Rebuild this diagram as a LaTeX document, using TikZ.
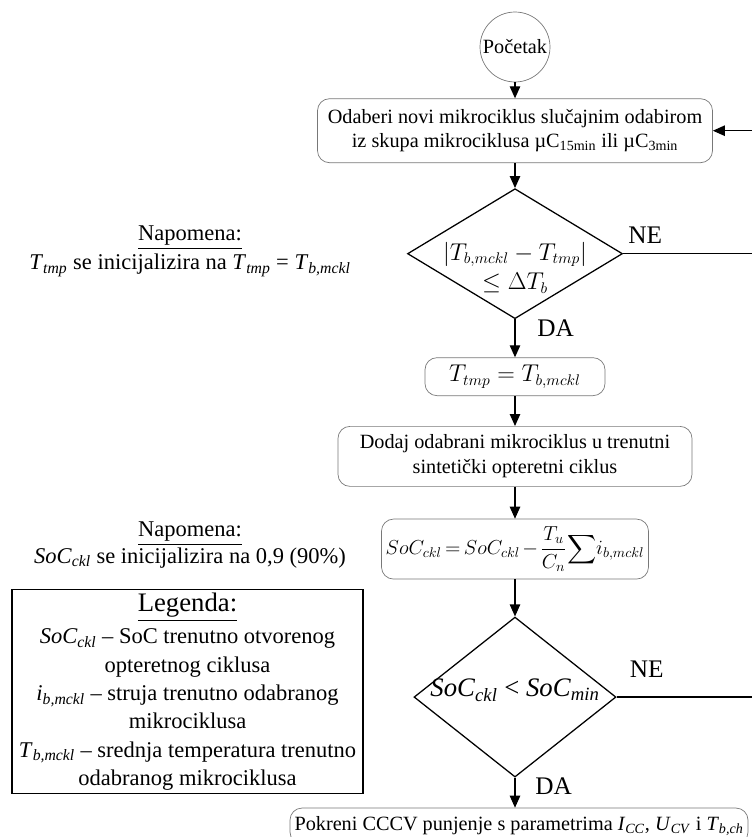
\documentclass[tikz,border=0pt]{standalone}
\usepackage{fontspec}
\setmainfont{Liberation Serif}
\usepackage{amsmath}
\usetikzlibrary{shapes.geometric, arrows.meta, positioning, calc}
\definecolor{fcgray}{RGB}{120,120,120}
\newcommand{\vsub}[2]{\textit{#1}\textsubscript{\textit{#2}}}

\begin{document}
\begin{tikzpicture}[node distance=0.5cm,
  box/.style={rectangle, rounded corners=0.3cm, draw=fcgray, line width=0.5pt, minimum width=#1, align=center, inner sep=2pt, font=\fontsize{14.4}{17.5}\selectfont},
  dec/.style 2 args={diamond, draw, line width=0.9pt, inner sep=0pt, minimum width=#1, minimum height=#2},
  arr/.style={-{Triangle[length=3mm, width=2.6mm]}, line width=0.9pt},
  plain/.style={line width=0.9pt},
  lbl/.style={font=\fontsize{18}{21}\selectfont, inner sep=0pt},
  note/.style={align=center, inner sep=0pt, font=\fontsize{16}{21}\selectfont}
]
\useasboundingbox (0,0) rectangle (18.8,-20.925);
\node[circle, draw=fcgray, line width=0.5pt, minimum size=1.75cm, inner sep=0pt, font=\fontsize{14.4}{17}\selectfont] (start) at (12.875,-1.175) {Početak};
\node[box=9.875cm, minimum height=1.6cm, below=0.4cm of start] (select) {Odaberi novi mikrociklus slučajnim odabirom\\iz skupa mikrociklusa µC\textsubscript{15min} ili µC\textsubscript{3min}};
\node[dec={5.375cm}{3.25cm}, below=0.625cm of select,
  label={[yshift=-0.35cm, align=center, font=\fontsize{16}{21}\selectfont]center:{$|T_{b,mckl}-T_{tmp}|$\\$\le\Delta T_b$}}] (tcheck) {};
\node[box=4.5cm, minimum height=0.95cm, below=0.95cm of tcheck, font=\fontsize{16}{19}\selectfont] (tset) {$T_{tmp} = T_{b,mckl}$};
\node[box=8.85cm, minimum height=1.5cm, below=0.75cm of tset] (add) {Dodaj odabrani mikrociklus u trenutni\\sintetički opteretni ciklus};
\node[box=6.675cm, minimum height=1.5cm, inner xsep=1pt, below=0.8cm of add, font=\fontsize{14.4}{17}\selectfont] (soc) {\thickmuskip=3mu\medmuskip=2mu$\displaystyle SoC_{ckl} = SoC_{ckl} - \frac{T_u}{C_n}\!\sum\! i_{b,mckl}$};
\node[dec={5.05cm}{4cm}, below=0.925cm of soc,
  label={[yshift=0.175cm, font=\fontsize{19}{22}\selectfont]center:{\vsub{SoC}{ckl} < \vsub{SoC}{min}}}] (socheck) {};
\node[box=11.45cm, minimum height=0.9cm, below=0.75cm of socheck, xshift=0.1cm] (charge) {Pokreni CCCV punjenje s parametrima \vsub{I}{CC}, \vsub{U}{CV} i \vsub{T}{b,ch}};
\coordinate (ret) at (19.2,0);
% odgovori na odluke
\node[lbl, anchor=south west] (ne1) at ($(tcheck.east)+(0.125,0.25)$) {NE};
\node[lbl, anchor=north west] (da1) at ($(tcheck.south)+(0.55,0)$) {DA};
\node[lbl, anchor=south west] (ne2) at ($(socheck.east)+(0.325,0.475)$) {NE};
\node[lbl, anchor=north west] (da2) at ($(socheck.south)+(0.5,0)$) {DA};
% napomene i legenda
\node[note] (note1) at (4.75,-6.275) {\underline{Napomena:}\\\vsub{T}{tmp} se inicijalizira na \vsub{T}{tmp} = \vsub{T}{b,mckl}};
\node[note, font=\fontsize{16}{16.5}\selectfont] (note2) at (4.75,-13.625) {\underline{Napomena:}\\\vsub{SoC}{ckl} se inicijalizira na 0,9 (90\%)};
\node[draw, line width=1pt, minimum width=8.775cm, minimum height=4.925cm, align=center, inner sep=2pt, font=\fontsize{16}{20.2}\selectfont] (legend) at (4.6875,-17.2875) {{\fontsize{19}{24}\selectfont\underline{Legenda:}}\\[3pt]\vsub{SoC}{ckl} -- SoC trenutno otvorenog\\opteretnog ciklusa\\\vsub{i}{b,mckl} -- struja trenutno odabranog\\mikrociklusa\\\vsub{T}{b,mckl} -- srednja temperatura trenutno\\odabranog mikrociklusa};
% veze
\draw[arr] (start) -- (select);
\draw[arr] (select) -- (tcheck);
\draw[arr] (tcheck) -- (tset);
\draw[arr] (tset) -- (add);
\draw[arr] (add) -- (soc);
\draw[arr] (soc) -- (socheck);
\draw[arr] (socheck.south) -- (socheck.south |- charge.north);
\draw[plain] (tcheck.east) -- (tcheck.east -| ret);
\draw[arr] (socheck.east) -- (socheck.east -| ret) |- (select.east);
\end{tikzpicture}
\end{document}
